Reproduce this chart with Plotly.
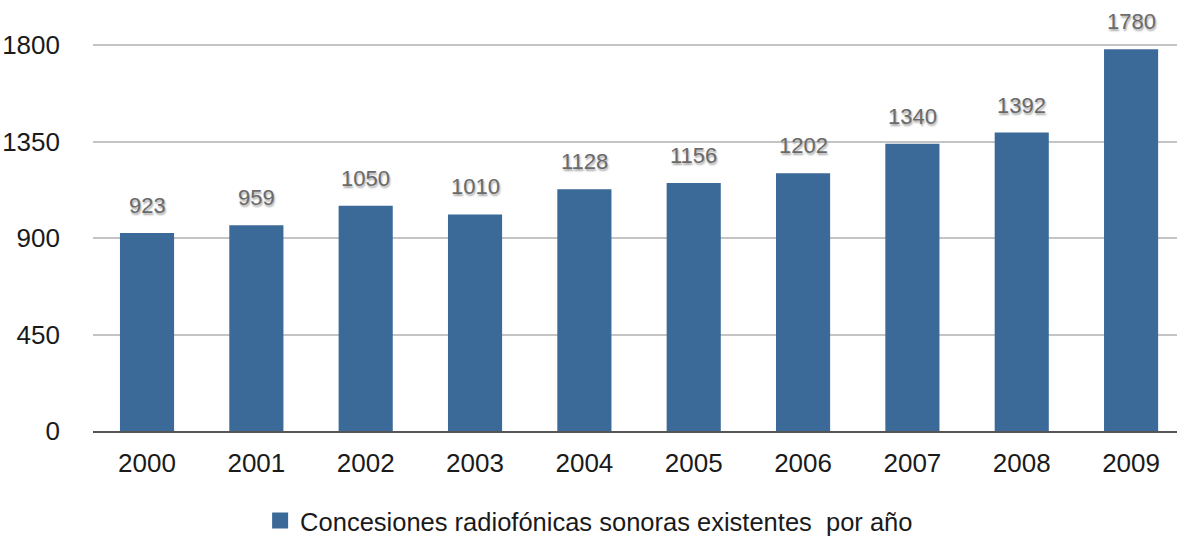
import plotly.graph_objects as go

years = ["2000", "2001", "2002", "2003", "2004", "2005", "2006", "2007", "2008", "2009"]
values = [923, 959, 1050, 1010, 1128, 1156, 1202, 1340, 1392, 1780]
y_ticks = [0, 450, 900, 1350, 1800]
series_name = "Concesiones radiofónicas sonoras existentes\u00a0 por año"

BAR = "#3b6a99"
FONT = "Liberation Sans, Arial, sans-serif"

fig = go.Figure()
fig.add_trace(go.Bar(
    x=years, y=values, name=series_name,
    marker=dict(color=BAR, line=dict(width=0)),
    showlegend=False,
))
# legend entry with a larger square swatch
fig.add_trace(go.Scatter(
    x=[None], y=[None], mode="markers", name=series_name,
    marker=dict(symbol="square", size=16, color=BAR),
    showlegend=True, hoverinfo="skip",
))

for i, v in enumerate(values):
    fig.add_annotation(
        x=i, y=v, xref="x", yref="y", text=str(v), showarrow=False,
        yanchor="bottom", yshift=13,
        font=dict(family=FONT, size=22, color="#6a6a6a", shadow="1px 2px 2px #a8a8a8"),
    )

fig.update_layout(
    width=1177, height=536,
    margin=dict(l=93, r=0, t=0, b=105),
    paper_bgcolor="white", plot_bgcolor="white",
    bargap=0.505,
    font=dict(family=FONT, size=26, color="#222"),
    xaxis=dict(
        type="category", range=[-0.494, 9.42],
        showgrid=False, showline=True, linecolor="#555", linewidth=2,
        ticks="", tickfont=dict(size=26, color="#1a1a1a"),
        ticklabelstandoff=8,
    ),
    yaxis=dict(
        range=[0, 2010], tickvals=y_ticks, ticktext=[str(t) for t in y_ticks],
        showgrid=True, gridcolor="#c4c4c4", gridwidth=2,
        zeroline=False, showline=False, ticks="",
        tickfont=dict(size=26, color="#1a1a1a"),
        ticklabelstandoff=32,
    ),
    legend=dict(
        orientation="h", xref="container", yref="container",
        x=0.221, xanchor="left", y=0.028, yanchor="middle",
        font=dict(size=25.5, color="#1a1a1a"),
        itemwidth=30, itemsizing="trace",
    ),
)

fig.write_html("out.html")
